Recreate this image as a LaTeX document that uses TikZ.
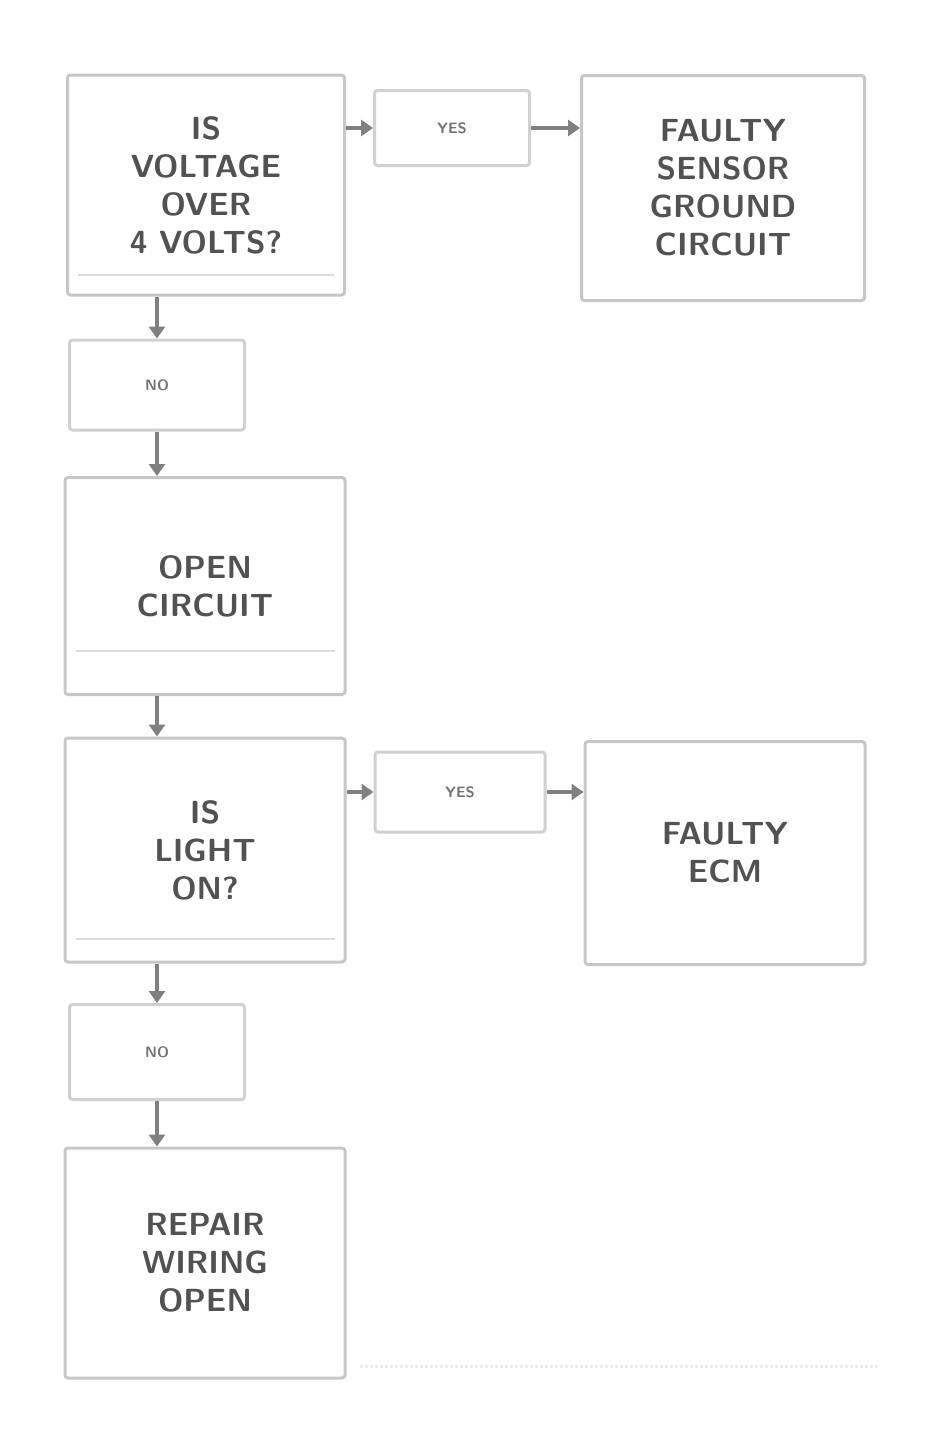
\documentclass[tikz,border=0pt]{standalone}
\usetikzlibrary{arrows.meta}
\begin{document}
\begin{tikzpicture}[x=1pt,y=-1pt,
  bigbox/.style={draw=black!22,line width=3pt,rounded corners=3pt,align=center,
    text=black!68,font=\fontsize{32}{38}\selectfont\sffamily\bfseries,inner sep=0pt},
  smallbox/.style={draw=black!18,line width=3pt,rounded corners=3pt,align=center,
    text=black!55,font=\fontsize{15}{16}\selectfont\sffamily\bfseries,inner sep=0pt},
  flow/.style={draw=black!50,line width=4pt,-{Triangle[length=12pt,width=16pt]}},
  sep/.style={draw=black!14,line width=2pt}]
\useasboundingbox (0,0) rectangle (927,1448);
\fill[white] (0,0) rectangle (927,1448);

\node[bigbox,minimum width=277pt,minimum height=220pt] (A) at (206,185) {IS\\VOLTAGE\\OVER\\4 VOLTS?};
\node[smallbox,minimum width=155pt,minimum height=75pt] (B) at (452,128) {YES};
\node[bigbox,minimum width=283pt,minimum height=225pt] (C) at (723,188) {FAULTY\\SENSOR\\GROUND\\CIRCUIT};
\node[smallbox,minimum width=175pt,minimum height=90pt] (D) at (157,385) {NO};
\node[bigbox,minimum width=280pt,minimum height=217pt] (E) at (205,586) {OPEN\\CIRCUIT};
\node[bigbox,minimum width=280pt,minimum height=224pt] (F) at (205,850) {IS\\LIGHT\\ON?};
\node[smallbox,minimum width=170pt,minimum height=80pt] (G) at (460,792) {YES};
\node[bigbox,minimum width=280pt,minimum height=223pt] (H) at (725,853) {FAULTY\\ECM};
\node[smallbox,minimum width=175pt,minimum height=95pt] (I) at (157,1052) {NO};
\node[bigbox,minimum width=280pt,minimum height=230pt] (J) at (205,1263) {REPAIR\\WIRING\\OPEN};

% inner separator lines
\draw[sep] ([xshift=12pt,yshift=22pt]A.south west) -- ([xshift=-12pt,yshift=22pt]A.south east);
\draw[sep] ([xshift=12pt,yshift=45pt]E.south west) -- ([xshift=-12pt,yshift=45pt]E.south east);
\draw[sep] ([xshift=12pt,yshift=25pt]F.south west) -- ([xshift=-12pt,yshift=25pt]F.south east);

% connectors
\draw[flow] (A.east |- B.west) -- (B.west);
\draw[flow] (B.east) -- (C.west |- B.east);
\draw[flow] (A.south -| D.north) -- (D.north);
\draw[flow] (D.south) -- (E.north -| D.south);
\draw[flow] (E.south -| D.south) -- (F.north -| D.south);
\draw[flow] (F.east |- G.west) -- (G.west);
\draw[flow] (G.east) -- (H.west |- G.east);
\draw[flow] (F.south -| I.north) -- (I.north);
\draw[flow] (I.south) -- (J.north -| I.south);

% faint bottom rule
\coordinate (r1) at (360,1366);
\coordinate (r2) at (880,1366);
\draw[black!7,line width=3pt,dotted] (r1) -- (r2);
\end{tikzpicture}
\end{document}
